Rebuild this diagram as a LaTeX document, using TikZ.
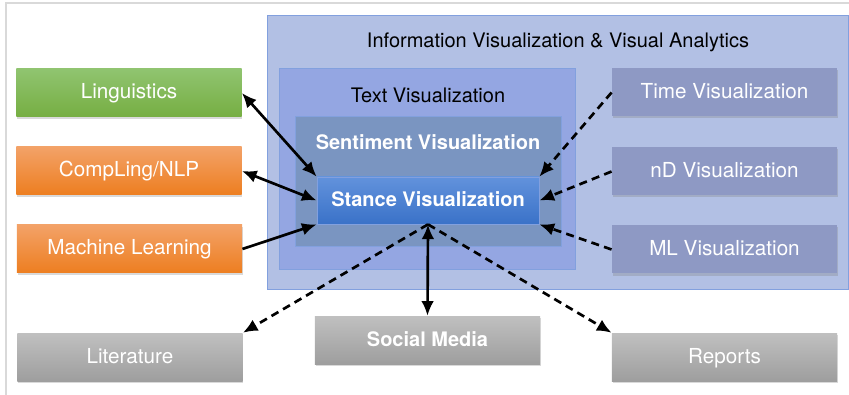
\documentclass[tikz,border=0pt]{standalone}
\usepackage{fontspec}
\setmainfont{TeX Gyre Heros}
\usetikzlibrary{arrows.meta, shadows}

\definecolor{infofill}{RGB}{178,192,228}
\definecolor{infoline}{RGB}{130,160,222}
\definecolor{textfill}{RGB}{148,166,226}
\definecolor{sentfill}{RGB}{122,149,193}
\definecolor{stancetop}{RGB}{98,146,220}
\definecolor{stancebot}{RGB}{58,114,200}
\definecolor{visfill}{RGB}{142,153,196}
\definecolor{greentop}{RGB}{144,196,112}
\definecolor{greenbot}{RGB}{118,174,66}
\definecolor{orangetop}{RGB}{243,162,104}
\definecolor{orangebot}{RGB}{237,126,32}
\definecolor{graytop}{RGB}{192,192,192}
\definecolor{graybot}{RGB}{158,158,158}

\tikzset{
  box/.style={rectangle, inner sep=0pt, minimum width=169pt, minimum height=36pt,
    text=white, font=\fontsize{15.5}{18}\selectfont, text height=1em, text depth=0.1em,
    drop shadow={shadow xshift=0.6pt, shadow yshift=-1.5pt, opacity=0.3}},
  greenbox/.style={box, top color=greentop, bottom color=greenbot},
  orangebox/.style={box, top color=orangetop, bottom color=orangebot},
  visbox/.style={box, fill=visfill},
  graybox/.style={box, top color=graytop, bottom color=graybot},
  boldtext/.style={font=\bfseries\fontsize{15}{18}\selectfont},
  area/.style={rectangle, inner sep=0pt, draw=infoline, line width=0.6pt},
  heading/.style={font=\fontsize{15}{18}\selectfont, text=black},
  link/.style={line width=2pt, -{Latex[length=11pt, width=9.5pt]}},
  both/.style={line width=2pt, {Latex[length=11pt, width=9.5pt]}-{Latex[length=11pt, width=9.5pt]}},
  hint/.style={link, dash pattern=on 6pt off 4pt},
}

\begin{document}
\begin{tikzpicture}[x=0.75pt, y=-0.75pt]
  \useasboundingbox (0,0) rectangle (849,395);
  \draw[black!15, line width=1pt] (6,395) -- (6,3) -- (849,3);

  % nested visualization areas
  \node[area, fill=infofill, minimum width=435.75pt, minimum height=205.5pt] (infovis) at (557.5,152) {};
  \node[heading] (infotitle) at (558,42) {Information Visualization \& Visual Analytics};
  \node[area, fill=textfill, minimum width=222pt, minimum height=150.75pt] (textvis) at (427,168.5) {};
  \node[heading] (texttitle) at (428,95) {Text Visualization};
  \node[area, fill=sentfill, minimum width=199.5pt, minimum height=97.5pt] (sentiment) at (428,181) {};
  \node[boldtext, text=white] (senttitle) at (428,142) {Sentiment Visualization};
  \node[area, boldtext, top color=stancetop, bottom color=stancebot, minimum width=166.5pt, minimum height=35.25pt,
    text=white, text height=1em, text depth=0.1em] (stance) at (428,200.5) {Stance Visualization};

  % fields on the left
  \node[greenbox] (linguistics) at (129,93) {Linguistics};
  \node[orangebox] (compling) at (129,171) {CompLing/NLP};
  \node[orangebox] (ml) at (129.5,249) {Machine Learning};

  % other visualizations
  \node[visbox] (timevis) at (724.5,92.5) {Time Visualization};
  \node[visbox] (ndvis) at (724.5,171.5) {nD Visualization};
  \node[visbox] (mlvis) at (724.5,249.5) {ML Visualization};

  % data sources
  \node[graybox] (literature) at (130,357) {Literature};
  \node[graybox, boldtext] (social) at (427.5,340) {Social Media};
  \node[graybox] (reports) at (724.5,357) {Reports};

  \draw[both] (linguistics.east) -- (stance.north west);
  \draw[both] (compling.east) -- (stance.west);
  \draw[link] (ml.east) -- (stance.south west);

  \draw[hint] (timevis.west) -- (stance.north east);
  \draw[hint] (ndvis.west) -- (stance.east);
  \draw[hint] (mlvis.west) -- (stance.south east);

  \draw[both] (stance.south) -- (social.north);
  \draw[hint] (stance.south) -- (literature.north east);
  \draw[hint] (stance.south) -- (reports.north west);
\end{tikzpicture}
\end{document}
